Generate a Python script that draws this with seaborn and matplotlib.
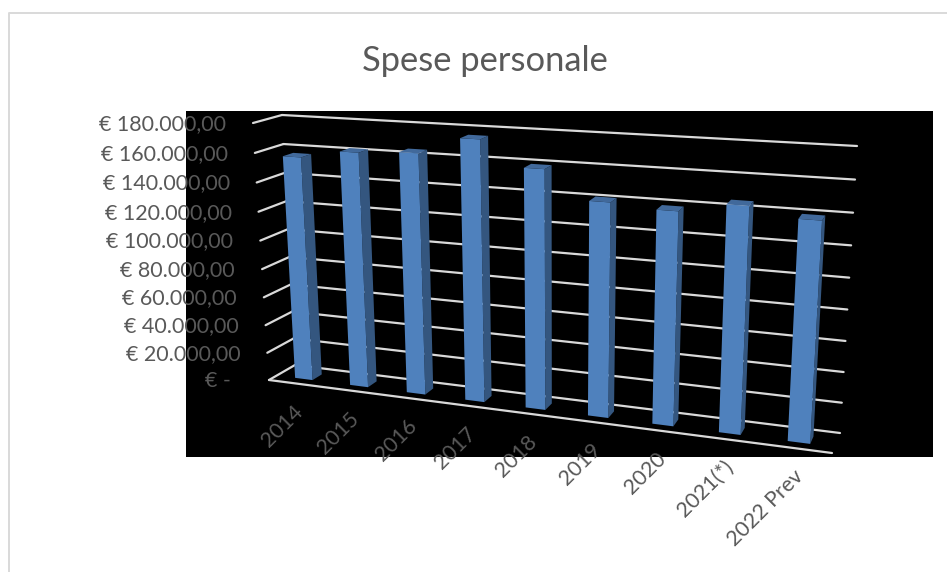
import numpy as np
import matplotlib
matplotlib.use('Agg')
import matplotlib.pyplot as plt
from matplotlib.lines import Line2D
from matplotlib.patches import Polygon
from matplotlib.transforms import IdentityTransform, Transform
import seaborn as sns

anni = ['2014', '2015', '2016', '2017', '2018', '2019', '2020', '2021(*)', '2022 Prev']
spese = [156800, 162500, 164600, 176000, 159700, 141600, 139200, 145600, 140000]
tick_valori = [0, 20000, 40000, 60000, 80000, 100000, 120000, 140000, 160000, 180000]
tick_testi = ['€ -  ', '€ 20.000,00', '€ 40.000,00', '€ 60.000,00', '€ 80.000,00',
              '€ 100.000,00', '€ 120.000,00', '€ 140.000,00', '€ 160.000,00', '€ 180.000,00']

W, H = 947, 572
GRIGIO = '#595959'
LINEA = '#D9D9D9'

sns.set_theme(style='white')
plt.rcParams['font.family'] = ['Lato', 'DejaVu Sans']

# box corners in picture pixels: (start, 0), (end, 0), (end, max), (start, max)
fronte = np.array([[269, 380], [832, 453], [849, 158], [253, 123]], dtype=float)
fondo = np.array([[295, 365], [840, 433], [857, 146], [282, 115]], dtype=float)
xmin, xmax = -0.5, len(anni) - 0.5
vmax = tick_valori[-1]


def omografia(d):
    corners = fronte + (fondo - fronte) * d
    corners = np.column_stack([corners[:, 0], H - corners[:, 1]])
    src = [(xmin, 0), (xmax, 0), (xmax, vmax), (xmin, vmax)]
    A, b = [], []
    for (x, y), (u, v) in zip(src, corners):
        x, y = (x - xmin) / (xmax - xmin), y / vmax
        A.append([x, y, 1, 0, 0, 0, -u * x, -u * y])
        A.append([0, 0, 0, x, y, 1, -v * x, -v * y])
        b += [u, v]
    h = np.linalg.solve(np.array(A), np.array(b))
    return np.append(h, 1).reshape(3, 3)


def proietta(xy, d):
    xy = np.atleast_2d(xy)
    x = (xy[:, 0] - xmin) / (xmax - xmin)
    y = xy[:, 1] / vmax
    p = np.column_stack([x, y, np.ones(len(x))]) @ omografia(d).T
    return p[:, :2] / p[:, 2:]


class Prospettiva(Transform):
    input_dims = 2
    output_dims = 2
    is_affine = False

    def __init__(self, d):
        super().__init__()
        self.d = d

    def transform_non_affine(self, values):
        return proietta(values, self.d)


fig = plt.figure(figsize=(W / 100, H / 100), dpi=100, facecolor='white')
ax = fig.add_axes([186 / W, (H - 457) / H, (933 - 186) / W, (457 - 111) / H], facecolor='black')

sns.barplot(x=anni, y=spese, color='#4F81BD', saturation=1, width=0.32, linewidth=0, edgecolor='none', ax=ax)

d_davanti, d_dietro = 0.30, 0.67
pixel = IdentityTransform()


def segmento(a, b):
    ax.add_line(Line2D([a[0], b[0]], [a[1], b[1]], color=LINEA, lw=1.6, transform=pixel,
                       clip_on=False, zorder=1, solid_capstyle='round'))


# grid on side wall and back wall
for v in tick_valori:
    a = proietta((xmin, v), 0)[0]
    b = proietta((xmin, v), 1)[0]
    c = proietta((xmax, v), 1)[0]
    segmento(a, b)
    segmento(b, c)
segmento(proietta((xmin, 0), 0)[0], proietta((xmax, 0), 0)[0])

# seaborn bars are the front faces, side and top come from the same rectangles
for bar in list(ax.patches):
    x0, x1 = bar.get_x(), bar.get_x() + bar.get_width()
    v = bar.get_height()
    bar.set_transform(Prospettiva(d_davanti))
    bar.set_clip_on(False)
    bar.set_zorder(4)
    lato = [proietta((x1, 0), d_davanti)[0], proietta((x1, 0), d_dietro)[0],
            proietta((x1, v), d_dietro)[0], proietta((x1, v), d_davanti)[0]]
    sopra = [proietta((x0, v), d_davanti)[0], proietta((x1, v), d_davanti)[0],
             proietta((x1, v), d_dietro)[0], proietta((x0, v), d_dietro)[0]]
    ax.add_patch(Polygon(lato, facecolor='#34567F', edgecolor='none', transform=pixel,
                         clip_on=False, zorder=3))
    ax.add_patch(Polygon(sopra, facecolor='#41699B', edgecolor='none', transform=pixel,
                         clip_on=False, zorder=3))

ax.set_xlim(xmin, xmax)
ax.set_ylim(0, vmax)
ax.set_xticks([])
ax.set_yticks([])
ax.set_xlabel('')
ax.set_ylabel('')
for s in ax.spines.values():
    s.set_visible(False)

for v, testo in zip(tick_valori, tick_testi):
    p = proietta((xmin, v), 0)[0]
    ax.text(p[0] - 27, p[1] - 1, testo, transform=pixel, ha='right', va='center',
            fontsize=15.5, color=GRIGIO, zorder=6)

for i, testo in enumerate(anni):
    p = proietta((i, 0), 0)[0]
    ax.text(p[0] + 4, p[1] - 25, testo, transform=pixel, ha='right', va='center', rotation=45,
            rotation_mode='anchor', fontsize=15.5, color=GRIGIO, zorder=6)

fig.text(485 / W, 1 - 61 / H, 'Spese personale', ha='center', va='center', fontsize=24.8, color=GRIGIO)

fig.add_artist(Line2D([8.5 / W, 8.5 / W, 1], [0, 1 - 13 / H, 1 - 13 / H], color=LINEA, lw=1.4))

fig.savefig('out.png', dpi=100)
